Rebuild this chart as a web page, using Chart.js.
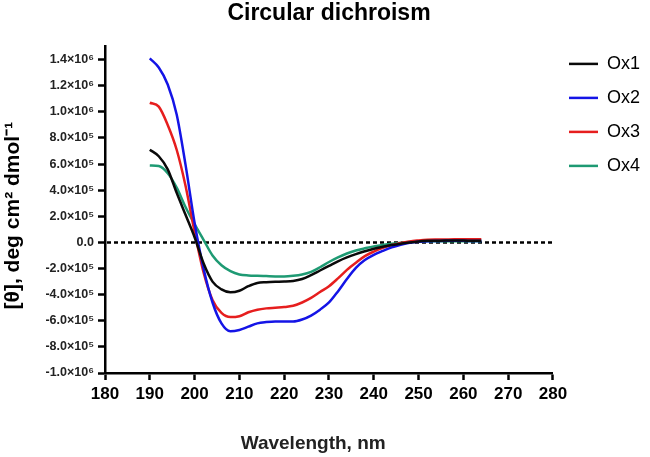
<!DOCTYPE html>
<html>
<head>
<meta charset="utf-8">
<title>Circular dichroism</title>
<script src="https://cdn.jsdelivr.net/npm/chart.js@4.4.1/dist/chart.umd.min.js"></script>
<style>
    html, body { margin: 0; padding: 0; background: #fff; }
    #wrap { width: 650px; height: 457px; }
</style>
</head>
<body>
<div id="wrap"><canvas id="cdChart"></canvas></div>
<script>
// ================================
// Data
// ================================

const wavelengths = [
    190, 192, 194, 196, 198, 200, 202, 204, 206, 208,
    210, 212, 214, 216, 218, 220, 222, 224, 226, 228,
    230, 232, 234, 236, 238, 240, 242, 244, 246, 248,
    250, 252, 254, 256, 258, 260, 262, 264
];

const seriesNames = ["Ox1", "Ox2", "Ox3", "Ox4"];

const ox1 = [
    7.1e5, 6.6e5, 5.6e5, 3.8e5, 2.1e5, 0.4e5, -1.6e5, -3.0e5, -3.6e5, -3.82e5,
    -3.7e5, -3.35e5, -3.1e5, -3.05e5, -3.02e5, -3.0e5, -2.95e5, -2.8e5, -2.5e5, -2.15e5,
    -1.8e5, -1.45e5, -1.15e5, -0.9e5, -0.68e5, -0.48e5, -0.33e5, -0.2e5, -0.1e5, 0,
    0.08e5, 0.12e5, 0.13e5, 0.14e5, 0.14e5, 0.14e5, 0.13e5, 0.13e5
];

const ox2 = [
    14.1e5, 13.4e5, 12.1e5, 9.8e5, 5.9e5, 1.5e5, -2.0e5, -4.6e5, -6.2e5, -6.8e5,
    -6.7e5, -6.45e5, -6.2e5, -6.1e5, -6.05e5, -6.05e5, -6.05e5, -5.9e5, -5.6e5, -5.15e5,
    -4.6e5, -3.75e5, -2.8e5, -1.95e5, -1.35e5, -0.95e5, -0.65e5, -0.38e5, -0.18e5, -0.02e5,
    0.06e5, 0.1e5, 0.11e5, 0.12e5, 0.12e5, 0.12e5, 0.11e5, 0.11e5
];

const ox3 = [
    10.7e5, 10.4e5, 9.0e5, 7.1e5, 4.3e5, 0.8e5, -2.3e5, -4.4e5, -5.4e5, -5.72e5,
    -5.65e5, -5.35e5, -5.15e5, -5.05e5, -5.0e5, -4.95e5, -4.85e5, -4.6e5, -4.25e5, -3.8e5,
    -3.35e5, -2.75e5, -2.1e5, -1.55e5, -1.05e5, -0.7e5, -0.42e5, -0.2e5, -0.05e5, 0.08e5,
    0.15e5, 0.2e5, 0.22e5, 0.23e5, 0.24e5, 0.24e5, 0.24e5, 0.24e5
];

const ox4 = [
    5.9e5, 5.85e5, 5.3e5, 4.2e5, 2.7e5, 1.4e5, 0.2e5, -1.0e5, -1.75e5, -2.2e5,
    -2.45e5, -2.53e5, -2.56e5, -2.58e5, -2.6e5, -2.6e5, -2.55e5, -2.45e5, -2.25e5, -1.9e5,
    -1.5e5, -1.15e5, -0.85e5, -0.62e5, -0.45e5, -0.3e5, -0.2e5, -0.1e5, -0.03e5, 0.03e5,
    0.07e5, 0.09e5, 0.1e5, 0.1e5, 0.1e5, 0.1e5, 0.1e5, 0.1e5
];

const lineColors = ["#0a0a0a", "#1414e6", "#e61e1e", "#1e9a73"];

// axis ticks as drawn in the original
const xTicks = [180, 190, 200, 210, 220, 230, 240, 250, 260, 270, 280];

const yTicks = [
    -1.0e6, -8.0e5, -6.0e5, -4.0e5, -2.0e5, 0,
    2.0e5, 4.0e5, 6.0e5, 8.0e5, 1.0e6, 1.2e6, 1.4e6
];

// ================================
// Helpers
// ================================

const FONT = "'Liberation Sans', Arial, Helvetica, sans-serif";

const SUPERS = { "0": "⁰", "1": "¹", "2": "²", "3": "³", "4": "⁴", "5": "⁵", "6": "⁶", "7": "⁷", "8": "⁸", "9": "⁹", "-": "⁻" };

function toSuper(n) {
    return String(n).split("").map(c => SUPERS[c]).join("");
}

// 1.4×10⁶ style labels like the original plot
function sciLabel(value) {

    if (Math.abs(value) < 1) return "0.0";

    const exp = Math.floor(Math.log10(Math.abs(value)) + 1e-9);
    const mant = value / Math.pow(10, exp);

    return mant.toFixed(1) + "×10" + toSuper(exp);
}

function toPoints(values) {
    return values.map((v, i) => ({ x: wavelengths[i], y: v }));
}

// dotted zero line across the plot
const zeroLine = {

    id: "zeroLine",

    beforeDatasetsDraw(chart) {

        const { ctx, chartArea, scales } = chart;
        const y0 = scales.y.getPixelForValue(0);

        ctx.save();
        ctx.beginPath();
        ctx.setLineDash([4, 3]);
        ctx.lineWidth = 2.5;
        ctx.strokeStyle = "#000";
        ctx.moveTo(chartArea.left + 2, y0);
        ctx.lineTo(chartArea.right, y0);
        ctx.stroke();
        ctx.restore();
    }
};

// ================================
// Chart
// ================================

const datasets = [ox1, ox2, ox3, ox4].map((values, i) => ({

    label: seriesNames[i],
    data: toPoints(values),
    borderColor: lineColors[i],
    backgroundColor: lineColors[i],
    borderWidth: 2.5,
    pointRadius: 0,
    cubicInterpolationMode: "monotone",
    fill: false

}));

new Chart(document.getElementById("cdChart"), {

    type: "line",

    data: { datasets },

    plugins: [zeroLine],

    options: {

        responsive: true,
        maintainAspectRatio: false,
        animation: false,

        layout: { padding: { left: 0, right: 0, top: 0, bottom: 0 } },

        plugins: {

            title: {
                display: true,
                text: "Circular dichroism",
                fullSize: false,
                color: "#000",
                font: { family: FONT, size: 23, weight: "bold" },
                padding: { top: 0, bottom: 19 }
            },

            legend: {
                position: "right",
                align: "start",
                // empty title only used as top spacing
                title: {
                    display: true,
                    text: "",
                    font: { size: 12 },
                    padding: { top: 24.5, bottom: 0 }
                },
                labels: {
                    usePointStyle: true,
                    pointStyle: "line",
                    pointStyleWidth: 29,
                    padding: 16,
                    color: "#000",
                    font: { family: FONT, size: 18 }
                }
            },

            tooltip: { enabled: false }

        },

        scales: {

            x: {
                type: "linear",
                min: 180,
                max: 280,
                afterFit: scale => { scale.height = 84; },
                afterBuildTicks: scale => { scale.ticks = xTicks.map(v => ({ value: v })); },
                border: { display: true, color: "#000", width: 2.5 },
                grid: {
                    drawOnChartArea: false,
                    drawTicks: true,
                    tickLength: 7,
                    tickWidth: 2.5,
                    tickColor: "#000"
                },
                ticks: {
                    padding: 4,
                    color: "#000",
                    maxRotation: 0,
                    autoSkip: false,
                    font: { family: FONT, size: 17, weight: "bold" }
                },
                title: {
                    display: true,
                    text: "Wavelength, nm      ",
                    color: "#222",
                    font: { family: FONT, size: 19, weight: "bold" },
                    padding: { top: 0, bottom: 2 }
                }
            },

            y: {
                type: "linear",
                min: -1.0e6,
                max: 1.5e6,
                afterFit: scale => { scale.width = 105; },
                afterBuildTicks: scale => { scale.ticks = yTicks.map(v => ({ value: v })); },
                border: { display: true, color: "#000", width: 2.5 },
                grid: {
                    drawOnChartArea: false,
                    drawTicks: true,
                    tickLength: 7,
                    tickWidth: 2.5,
                    tickColor: "#000"
                },
                ticks: {
                    padding: 4,
                    color: "#222",
                    autoSkip: false,
                    font: { family: FONT, size: 12.5, weight: "bold" },
                    callback: value => sciLabel(value)
                },
                title: {
                    display: true,
                    text: "[θ], deg cm² dmol⁻¹  ",
                    color: "#000",
                    font: { family: FONT, size: 21, weight: "bold" },
                    padding: { top: 1, bottom: 0 }
                }
            }

        }

    }

});
</script>
</body>
</html>
